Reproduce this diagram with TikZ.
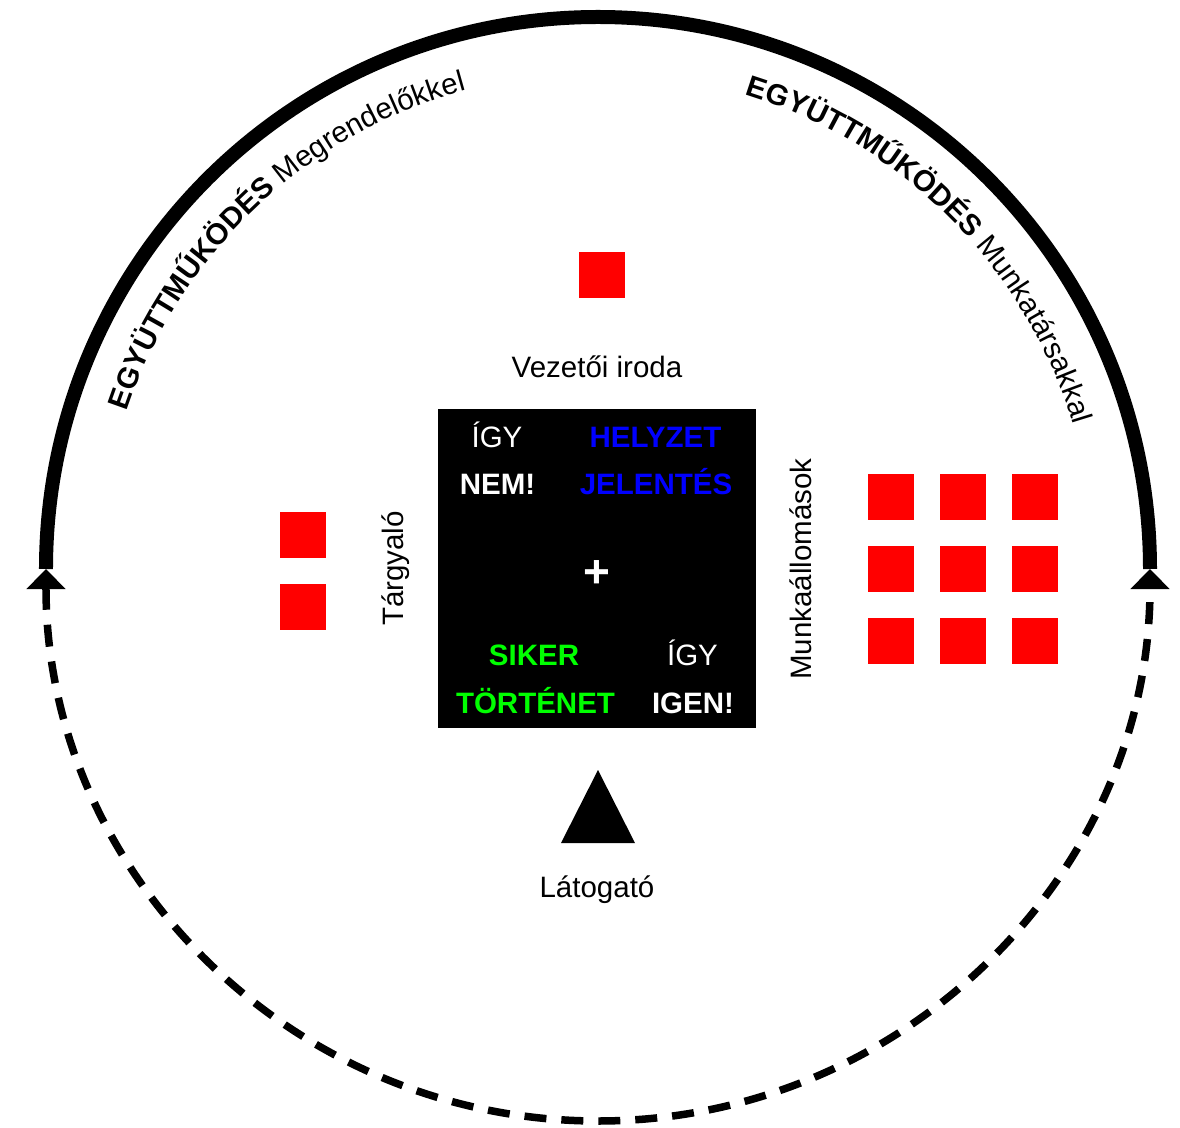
\documentclass[tikz,border=0pt]{standalone}
\usepackage{fontspec}
\setmainfont{Liberation Sans}
\usetikzlibrary{arrows.meta,decorations.text}

\begin{document}
\begin{tikzpicture}[x=1pt, y=1pt,
  room/.style={fill=red, minimum size=46pt, inner sep=0pt},
  word/.style={font=\fontsize{29.5}{34}\selectfont, anchor=base, inner sep=0pt},
  boxword/.style={font=\fontsize{29.5}{34}\selectfont\bfseries, anchor=base, inner sep=0pt},
  arctext/.style={decorate, decoration={text along path, text align=left, text={#1}}}]
\useasboundingbox (-598,-558) rectangle (582,569);

% kor: felul folytonos, alul szaggatott
\draw[line width=14pt] (180:552) arc[start angle=180, end angle=90, radius=552];
\draw[line width=14pt] (90:552) arc[start angle=90, end angle=0, radius=552];
\draw[line width=7.5pt, dash pattern=on 22pt off 15pt, {Triangle[width=38pt,length=20pt]}-{Triangle[width=38pt,length=20pt]}]
  (180:552) arc[start angle=180, end angle=360, radius=552];

\path[arctext={|\fontsize{29.5}{34}\selectfont\bfseries|EGYÜTTMŰKÖDÉS |\fontsize{29.5}{34}\selectfont\mdseries|Megrendelőkkel}]
  (161.5:497) arc[start angle=161.5, end angle=95, radius=497];
\path[arctext={|\fontsize{29.5}{34}\selectfont\bfseries|EGYÜTTMŰKÖDÉS |\fontsize{29.5}{34}\selectfont\mdseries|Munkatársakkal}]
  (72.8:497) arc[start angle=72.8, end angle=5, radius=497];

\node[room] (vezeto) at (4,294) {};
\node[word] (vezetolbl) at (-1,191) {Vezetői iroda};

% kozepso tabla
\node[fill=black, minimum size=318pt, inner sep=0pt] (board) at (-1,0.5) {};
\node[word, white] (igy1) at (-101,121) {ÍGY};
\node[boxword, white] (nem) at (-100.5,74) {NEM!};
\node[boxword, blue] (helyzet) at (57.5,121) {HELYZET};
\node[boxword, blue] (jelentes) at (58,74) {JELENTÉS};
\node[boxword, white, anchor=center, font=\fontsize{46}{48}\selectfont\bfseries] (plus) at (-1,-5) {+};
\node[boxword, green] (siker) at (-64,-96) {SIKER};
\node[boxword, green] (tortenet) at (-62.5,-144) {TÖRTÉNET};
\node[word, white] (igy2) at (94.5,-96) {ÍGY};
\node[boxword, white] (igen) at (95,-144) {IGEN!};

\node[room] (targy1) at (-295,34) {};
\node[room] (targy2) at (-295,-38) {};
\node[word, rotate=90] (targylbl) at (-194,0.5) {Tárgyaló};

\foreach \i in {0,1,2}
  \foreach \j in {0,1,2}
    \node[room] (munka\i\j) at (293+72*\i, 72-72*\j) {};
\node[word, rotate=90] (munkalbl) at (213,0) {Munkaállomások};

\fill (0,-201) coordinate (csucs) -- (37,-274) -- (-37,-274) -- cycle;
\node[word] (latogato) at (-1,-328) {Látogató};
\end{tikzpicture}
\end{document}
